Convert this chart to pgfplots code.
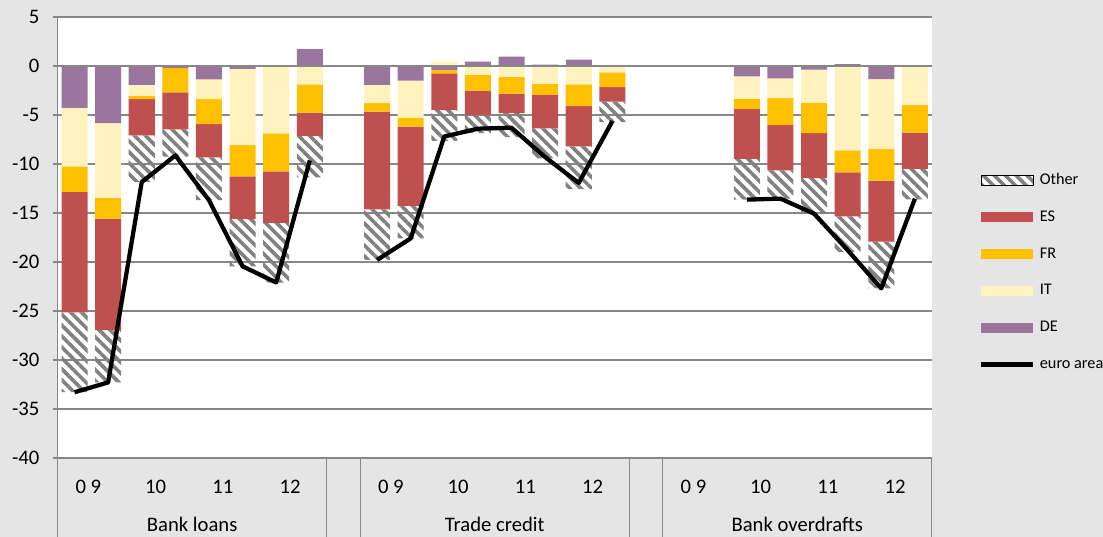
\documentclass[border=0pt]{standalone}
\usepackage{pgfplots}
\usepackage{pgfplotstable}
\pgfplotsset{compat=1.18}
\usetikzlibrary{patterns.meta}
\usepackage{fontspec}
\setmainfont{Carlito}

\definecolor{cES}{HTML}{C0504D}
\definecolor{cFR}{HTML}{FFC000}
\definecolor{cIT}{HTML}{FFF2BE}
\definecolor{cDE}{HTML}{9A769E}
\definecolor{cGrid}{HTML}{878787}
\definecolor{cBG}{HTML}{E5E5E5}
\definecolor{cHatch}{HTML}{808080}

% negative parts (stacked downward) and positive parts (stacked upward)
\pgfplotstableread{
x   DE     IT     FR     ES      Other  DEp   ITp
0  -4.28  -5.97  -2.61  -12.30  -8.14  0     0
1  -5.84  -7.63  -2.11  -11.37  -5.35  0     0
2  -1.93  -1.09  -0.37  -3.70   -4.75  0     0
3  -0.20   0     -2.50  -3.78   -2.77  0     0.12
4  -1.36  -2.03  -2.55  -3.39   -4.37  0     0
5  -0.30  -7.78  -3.19  -4.37   -4.81  0     0
6   0     -6.89  -3.87  -5.26   -6.08  0     0
7   0     -1.87  -2.88  -2.38   -4.24  1.73  0
9  -1.93  -1.87  -0.85  -9.98   -5.17  0     0
10 -1.49  -3.77  -0.92  -8.11   -3.31  0     0
11 -0.40   0     -0.35  -3.75   -3.15  0     0.45
12  0     -0.90  -1.62  -2.50   -1.83  0.45  0
13  0     -1.12  -1.70  -2.00   -2.43  0.95  0
14  0     -1.83  -1.12  -3.43   -3.06  0.14  0
15  0     -1.87  -2.23  -4.11   -4.37  0.64  0
16  0     -0.65  -1.50  -1.50   -2.08  0.10  0
20 -1.05  -2.31  -1.02  -5.09   -4.17  0     0
21 -1.26  -2.03  -2.71  -4.65   -2.89  0     0
22 -0.37  -3.36  -3.12  -4.59   -3.63  0     0
23  0     -8.62  -2.24  -4.48   -3.66  0.20  0
24 -1.33  -7.15  -3.23  -6.21   -4.78  0     0
25  0     -4.00  -2.79  -3.70   -3.13  0.08  0
}\data

\tikzset{
  hatch/.style={pattern={Lines[angle=-45,distance=5.8pt,line width=2.7pt]}, pattern color=cHatch},
}
\pgfplotsset{
  common/.style={
    at={(0pt,0pt)}, anchor=south west,
    scale only axis, width=655.7pt, height=330.75pt,
    xmin=-0.5, xmax=25.5, ymin=-40, ymax=5,
  },
  barleg/.style={legend image code/.code={\fill[##1, draw=none] (0pt,-3.75pt) rectangle (39pt,3.75pt);}},
  hatchleg/.style={legend image code/.code={%
     \fill[white] (0pt,-3.75pt) rectangle (39pt,3.75pt);
     \path[hatch] (0pt,-3.75pt) rectangle (39pt,3.75pt);}},
  lineleg/.style={legend image code/.code={\draw[##1] (0pt,0pt) -- (39pt,0pt);}},
}

\begin{document}
\begin{tikzpicture}
\fill[cBG] (-43.3pt,-59.25pt) rectangle (784.2pt,343.5pt);
\useasboundingbox (-43.3pt,-59.25pt) rectangle (784.2pt,343.5pt);

% axis 1: frame, grid, negative stacks
\begin{axis}[common,
  ybar stacked, bar width=0.774,
  axis background/.style={fill=white},
  axis lines*=left, axis line style={cGrid, line width=1pt, -},
  ymajorgrids, grid style={cGrid, line width=1pt},
  ytick={-40,-35,...,5},
  tick align=outside, major tick length=3.75pt,
  ytick style={cGrid, line width=1pt},
  xtick style={draw=none},
  /pgf/number format/assume math mode=true,
  yticklabel style={font=\fontsize{15.5}{18}\selectfont, xshift=-6.5pt},
  xtick={0.5,2.5,4.5,6.5,9.5,11.5,13.5,15.5,18.5,20.5,22.5,24.5},
  xticklabels={0 9,10,11,12,0 9,10,11,12,0 9,10,11,12},
  xticklabel style={font=\fontsize{15.5}{18}\selectfont, anchor=center, yshift=-18pt, xshift=-2.25pt},
]
\addplot[fill=cDE, draw=none] table[x=x, y=DE] {\data};
\addplot[fill=cIT, draw=none] table[x=x, y=IT] {\data};
\addplot[fill=cFR, draw=none] table[x=x, y=FR] {\data};
\addplot[fill=cES, draw=none] table[x=x, y=ES] {\data};
\addplot[hatch, draw=none] table[x=x, y=Other] {\data};
\end{axis}

% axis 2: positive stacks
\begin{axis}[common, hide axis, ybar stacked, bar width=0.774]
\addplot[fill=cDE, draw=none] table[x=x, y=DEp] {\data};
\addplot[fill=cIT, draw=none] table[x=x, y=ITp] {\data};
\end{axis}

% axis 3: euro area line, zero line, category frame, legend
\begin{axis}[common, hide axis, clip=false,
  legend style={at={(1.0492,0.4205)}, anchor=west, draw=none, fill=none,
    font=\fontsize{12.2}{14}\selectfont, row sep=17.6pt,
    nodes={inner sep=0pt, inner xsep=3.5pt, text height=8pt, text depth=2pt}},
  legend cell align=left,
]
\addlegendimage{hatchleg}
\addlegendimage{barleg, fill=cES}
\addlegendimage{barleg, fill=cFR}
\addlegendimage{barleg, fill=cIT}
\addlegendimage{barleg, fill=cDE}
\addlegendimage{lineleg, black, line width=3.2pt}
\legend{Other,ES,FR,IT,DE,euro area}

\draw[cGrid, line width=1pt] (axis cs:-0.5,0) -- (axis cs:25.5,0);

\addplot[black, line width=3.2pt, line join=round, forget plot] coordinates {
 (0,-33.3) (1,-32.3) (2,-11.84) (3,-9.13) (4,-13.7) (5,-20.45) (6,-22.1) (7,-9.64)};
\addplot[black, line width=3.2pt, line join=round, forget plot] coordinates {
 (9,-19.8) (10,-17.6) (11,-7.2) (12,-6.4) (13,-6.3) (14,-9.3) (15,-11.94) (16,-5.63)};
\addplot[black, line width=3.2pt, line join=round, forget plot] coordinates {
 (20,-13.64) (21,-13.54) (22,-15.07) (23,-18.8) (24,-22.7) (25,-13.54)};

\pgfplotsinvokeforeach{-0.5,7.5,8.5,16.5,17.5,25.5}{
  \draw[cGrid, line width=1pt] (axis cs:#1,-40) -- ++(0pt,-59.25pt);
}
\node[font=\fontsize{15.5}{18}\selectfont] at ([yshift=-50pt]axis cs:3.5,-40) {Bank loans};
\node[font=\fontsize{15.5}{18}\selectfont] at ([yshift=-50pt]axis cs:12.5,-40) {Trade credit};
\node[font=\fontsize{15.5}{18}\selectfont] at ([yshift=-50pt]axis cs:21.5,-40) {Bank overdrafts};
\end{axis}
\end{tikzpicture}
\end{document}
